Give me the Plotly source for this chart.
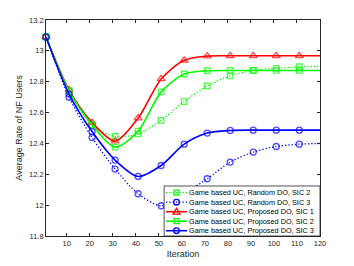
import plotly.graph_objects as go

iters = [1, 11, 21, 31, 41, 51, 61, 71, 81, 91, 101, 111, 120]

rand_sic2 = [13.09, 12.74, 12.52, 12.445, 12.462, 12.55, 12.671, 12.773, 12.838, 12.874, 12.886, 12.897, 12.899]
rand_sic3 = [13.09, 12.70, 12.438, 12.234, 12.074, 11.996, 12.075, 12.171, 12.279, 12.344, 12.38, 12.395, 12.40]
prop_sic1 = [13.09, 12.747, 12.535, 12.415, 12.564, 12.818, 12.939, 12.966, 12.968, 12.968, 12.968, 12.968, 12.968]
prop_sic2 = [13.09, 12.74, 12.52, 12.376, 12.48, 12.734, 12.85, 12.871, 12.873, 12.873, 12.873, 12.873, 12.873]
prop_sic3 = [13.09, 12.72, 12.477, 12.292, 12.186, 12.257, 12.395, 12.467, 12.484, 12.486, 12.486, 12.486, 12.486]

names = [
    "Game based UC, Random DO, SIC 2",
    "Game based UC, Random DO, SIC 3",
    "Game based UC, Proposed DO, SIC 1",
    "Game based UC, Proposed DO, SIC 2",
    "Game based UC, Proposed DO, SIC 3",
]
series = [rand_sic2, rand_sic3, prop_sic1, prop_sic2, prop_sic3]
colors = ["#00ff00", "#0000ff", "#ff0000", "#00ff00", "#0000ff"]
dashes = ["1.3px,2px", "1.3px,2px", "solid", "solid", "solid"]
widths = [1.3, 1.3, 1.6, 1.6, 1.6]
symbols = ["square-open", "circle-open", "triangle-up-open", "square-open", "circle-open"]
msizes = [5.5, 6, 7, 5.5, 6]

x_ticks = [10, 20, 30, 40, 50, 60, 70, 80, 90, 100, 110, 120]
y_ticks = [11.8, 12, 12.2, 12.4, 12.6, 12.8, 13, 13.2]
y_tick_labels = ["11.8", "12", "12.2", "12.4", "12.6", "12.8", "13", "13.2"]

fig = go.Figure()
for name, ys, c, d, w, s, ms in zip(names, series, colors, dashes, widths, symbols, msizes):
    sizes = [ms] * (len(iters) - 1) + [0]
    fig.add_trace(go.Scatter(
        x=iters, y=ys, name=name, mode="lines+markers", showlegend=False,
        line=dict(color=c, width=w, dash=d, shape="spline", smoothing=0.8),
        marker=dict(symbol=s, size=sizes, color=c, line=dict(color=c, width=1.3)),
        cliponaxis=False,
    ))

# custom compact legend (box, sample lines, glyphs, labels)
box_x0, box_x1, box_y0, box_y1 = 0.431, 1.0, 0.0, 0.2315
row_y = [0.2005, 0.1565, 0.1125, 0.0685, 0.0245]
ln_x0, ln_x1, mk_x, tx_x = 0.438, 0.5146, 0.4763, 0.519

shapes = [dict(type="rect", xref="paper", yref="paper", x0=box_x0, x1=box_x1, y0=box_y0, y1=box_y1,
               fillcolor="white", line=dict(color="#262626", width=0.8), layer="above")]
annotations = []
for name, c, d, w, s, ry in zip(names, colors, dashes, widths, symbols, row_y):
    shapes.append(dict(type="line", xref="paper", yref="paper", x0=ln_x0, x1=ln_x1, y0=ry, y1=ry,
                       line=dict(color=c, width=w, dash=d), layer="above"))
    common = dict(xref="paper", yref="paper", xsizemode="pixel", ysizemode="pixel",
                  xanchor=mk_x, yanchor=ry, line=dict(color=c, width=1.3), fillcolor="rgba(0,0,0,0)",
                  layer="above")
    if s.startswith("square"):
        shapes.append(dict(type="rect", x0=-2.5, x1=2.5, y0=-2.5, y1=2.5, **common))
    elif s.startswith("circle"):
        shapes.append(dict(type="circle", x0=-2.8, x1=2.8, y0=-2.8, y1=2.8, **common))
    else:
        shapes.append(dict(type="path", path="M -3.5 -2.5 L 3.5 -2.5 L 0 3.5 Z", **common))
    annotations.append(dict(xref="paper", yref="paper", x=tx_x, y=ry, xanchor="left", yanchor="middle",
                            text=name, showarrow=False, borderpad=0, font=dict(size=7.3, color="#000000")))

axis_common = dict(
    showgrid=False, zeroline=False, showline=True, linecolor="#262626", linewidth=0.8,
    mirror="ticks", ticks="inside", ticklen=3, tickcolor="#262626",
    tickfont=dict(size=7.5, color="#262626"), automargin=False,
)

# page body has an 8px default margin, so the figure is offset by (8, 8)
fig.update_layout(
    width=354, height=266,
    margin=dict(l=38, r=42, t=12, b=38),
    paper_bgcolor="white", plot_bgcolor="white",
    font=dict(family="Liberation Sans, Arial, sans-serif", color="#262626"),
    showlegend=False,
    shapes=shapes,
    annotations=annotations,
    xaxis=dict(range=[1, 120], tickvals=x_ticks,
               title=dict(text="Iteration", font=dict(size=9), standoff=3), **axis_common),
    yaxis=dict(range=[11.8, 13.2], tickvals=y_ticks, ticktext=y_tick_labels,
               title=dict(text="Average Rate of NF Users", font=dict(size=9), standoff=4), **axis_common),
)

fig.write_html("out.html")
